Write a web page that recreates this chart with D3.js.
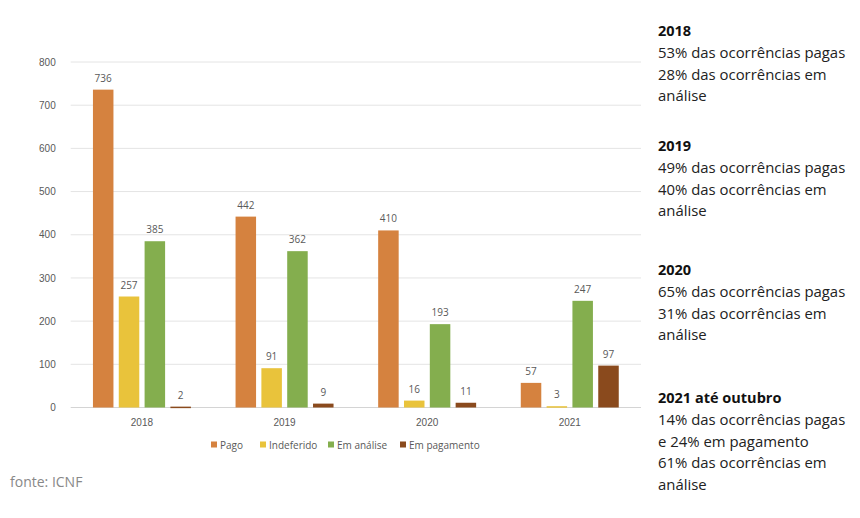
<!DOCTYPE html>
<html>
<head>
<meta charset="utf-8">
<script src="https://cdn.jsdelivr.net/npm/d3@7"></script>
<style>
  body { margin: 0; background: #fff; }
  svg { display: block; font-family: "Open Sans", "Noto Sans", sans-serif; }
</style>
</head>
<body>
<svg id="chart" width="860" height="518"></svg>
<script>
// dados
const years = ["2018", "2019", "2020", "2021"];
const series = ["Pago", "Indeferido", "Em análise", "Em pagamento"];
const pago = [736, 442, 410, 57];
const indeferido = [257, 91, 16, 3];
const emAnalise = [385, 362, 193, 247];
const emPagamento = [2, 9, 11, 97];
const yTicks = [0, 100, 200, 300, 400, 500, 600, 700, 800];
const colors = ["#D5823F", "#E9C33B", "#84AE4E", "#8A4A1D"];

const notes = [
  { title: "2018", lines: ["53% das ocorrências pagas", "28% das ocorrências em", "análise"], y: 31 },
  { title: "2019", lines: ["49% das ocorrências pagas", "40% das ocorrências em", "análise"], y: 146 },
  { title: "2020", lines: ["65% das ocorrências pagas", "31% das ocorrências em", "análise"], y: 270 },
  { title: "2021 até outubro", lines: ["14% das ocorrências pagas", "e 24% em pagamento", "61% das ocorrências em", "análise"], y: 398 }
];

const svg = d3.select("#chart");
const values = [pago, indeferido, emAnalise, emPagamento];

const plotLeft = 70.7, plotRight = 641, plotTop = 62, plotBottom = 407.5;

const y = d3.scaleLinear().domain([0, 800]).range([plotBottom, plotTop]);
const x0 = d3.scaleBand().domain(years).range([plotLeft, plotRight]).paddingInner(0.313).paddingOuter(0.156);
const x1 = d3.scaleBand().domain(series).range([0, x0.bandwidth()]).paddingInner(0.206);
const color = d3.scaleOrdinal(series, colors);

// grelha
svg.append("g").selectAll("line").data(yTicks).join("line")
  .attr("x1", plotLeft).attr("x2", plotRight)
  .attr("y1", d => y(d)).attr("y2", d => y(d))
  .attr("stroke", d => d === 0 ? "#d4d4d4" : "#e4e4e4").attr("stroke-width", 1);

// eixo y
const yAxis = svg.append("g").attr("transform", `translate(${plotLeft - 12},0)`)
  .call(d3.axisLeft(y).tickValues(yTicks).tickSize(0));
yAxis.select(".domain").remove();
yAxis.selectAll("text").attr("fill", "#595959").style("font-size", "10px").attr("dx", 0);

// eixo x
const xAxis = svg.append("g").attr("transform", `translate(0,${plotBottom + 8})`)
  .call(d3.axisBottom(x0).tickSize(0));
xAxis.select(".domain").remove();
xAxis.selectAll("text").attr("fill", "#595959").style("font-size", "10px");

// barras
const groups = svg.append("g").selectAll("g").data(years).join("g")
  .attr("transform", d => `translate(${x0(d)},0)`);

groups.selectAll("rect").data((d, i) => series.map((s, j) => ({ s, v: values[j][i] }))).join("rect")
  .attr("x", d => x1(d.s)).attr("width", x1.bandwidth())
  .attr("y", d => y(d.v)).attr("height", d => Math.max(1.5, y(0) - y(d.v)))
  .attr("fill", d => color(d.s));

groups.selectAll("text").data((d, i) => series.map((s, j) => ({ s, v: values[j][i] }))).join("text")
  .attr("x", d => x1(d.s) + x1.bandwidth() / 2)
  .attr("y", d => y(d.v) - 8)
  .attr("text-anchor", "middle")
  .attr("fill", "#595959").style("font-size", "10px")
  .text(d => d.v);

// legenda
const legendX = [211, 260, 328, 400];
const legend = svg.append("g").selectAll("g").data(series).join("g")
  .attr("transform", (d, i) => `translate(${legendX[i]},445)`);
legend.append("rect").attr("x", 0).attr("y", -3.5).attr("width", 6).attr("height", 6).attr("fill", d => color(d));
legend.append("text").attr("x", 9).attr("dy", "0.35em").attr("fill", "#595959").style("font-size", "10px").text(d => d);

// notas à direita
const noteG = svg.append("g").selectAll("g").data(notes).join("g")
  .attr("transform", d => `translate(658,${d.y})`);
noteG.append("text").attr("dy", "0.35em").attr("fill", "#111").style("font-size", "14.5px").style("font-weight", "bold").text(d => d.title);
noteG.each(function(d) {
  d3.select(this).selectAll("text.l").data(d.lines).join("text").attr("class", "l")
    .attr("y", (t, i) => (i + 1) * 21.7).attr("dy", "0.35em")
    .attr("fill", "#222").style("font-size", "14.9px").text(t => t);
});

svg.append("text").attr("x", 10).attr("y", 482).attr("dy", "0.35em")
  .attr("fill", "#888").style("font-size", "14px").text("fonte: ICNF");
</script>
</body>
</html>
